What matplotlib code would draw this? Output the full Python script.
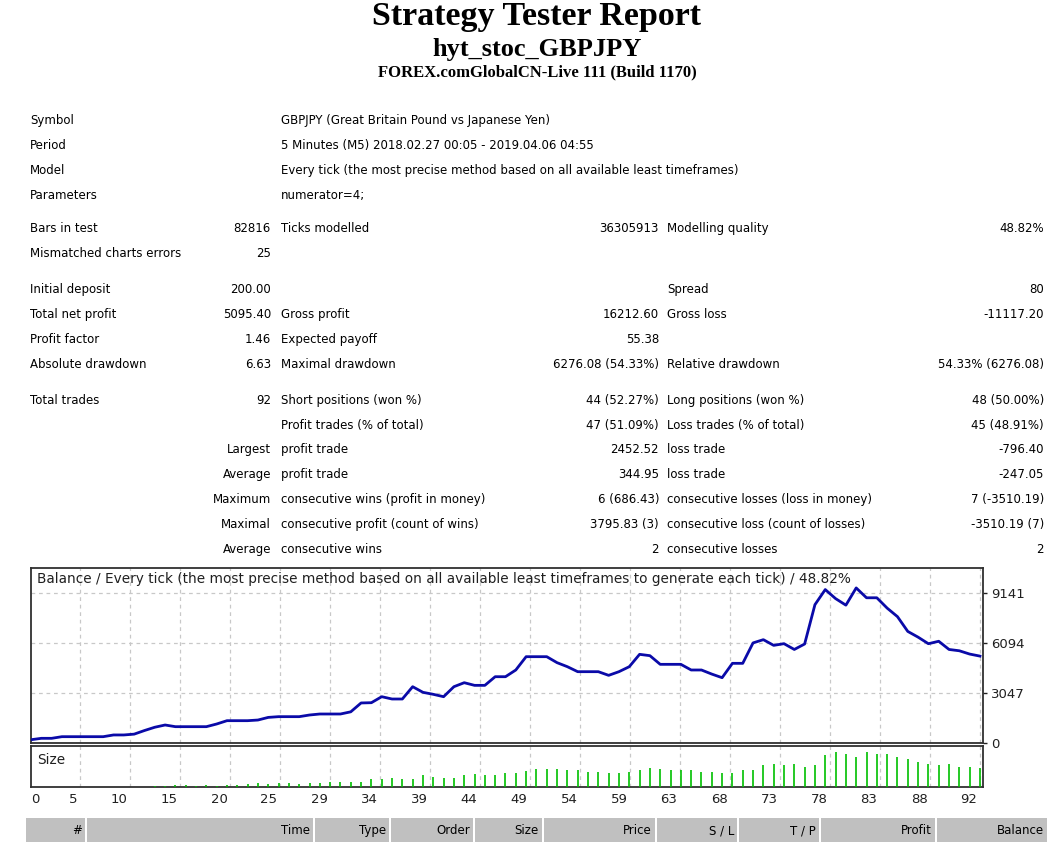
"""
plot.py
MT4 style "Strategy Tester Report" page: header, stats table, balance / size chart.
"""
import numpy as np
import matplotlib
matplotlib.use("Agg")
import matplotlib.pyplot as plt
from matplotlib.patches import Rectangle

# -----------------------------
# Data
# -----------------------------
title = "Strategy Tester Report"
expert = "hyt_stoc_GBPJPY"
server = "FOREX.comGlobalCN-Live 111 (Build 1170)"

info_labels = ["Symbol", "Period", "Model", "Parameters"]
info_values = ["GBPJPY (Great Britain Pound vs Japanese Yen)",
               "5 Minutes (M5) 2018.02.27 00:05 - 2019.04.06 04:55",
               "Every tick (the most precise method based on all available least timeframes)",
               "numerator=4;"]

stat_rows = [
    ["Bars in test", "82816", "Ticks modelled", "36305913", "Modelling quality", "48.82%"],
    ["Mismatched charts errors", "25", "", "", "", ""],
    ["Initial deposit", "200.00", "", "", "Spread", "80"],
    ["Total net profit", "5095.40", "Gross profit", "16212.60", "Gross loss", "-11117.20"],
    ["Profit factor", "1.46", "Expected payoff", "55.38", "", ""],
    ["Absolute drawdown", "6.63", "Maximal drawdown", "6276.08 (54.33%)", "Relative drawdown", "54.33% (6276.08)"],
    ["Total trades", "92", "Short positions (won %)", "44 (52.27%)", "Long positions (won %)", "48 (50.00%)"],
    ["", "", "Profit trades (% of total)", "47 (51.09%)", "Loss trades (% of total)", "45 (48.91%)"],
    ["", "Largest", "profit trade", "2452.52", "loss trade", "-796.40"],
    ["", "Average", "profit trade", "344.95", "loss trade", "-247.05"],
    ["", "Maximum", "consecutive wins (profit in money)", "6 (686.43)", "consecutive losses (loss in money)", "7 (-3510.19)"],
    ["", "Maximal", "consecutive profit (count of wins)", "3795.83 (3)", "consecutive loss (count of losses)", "-3510.19 (7)"],
    ["", "Average", "consecutive wins", "2", "consecutive losses", "2"],
]

# balance after each trade (trade 0 = initial deposit)
balance = [200, 285, 285, 385, 385, 385, 385, 385, 490, 490,
           540, 760, 960, 1097, 995, 995, 995, 995, 1158, 1360,
           1360, 1360, 1400, 1560, 1605, 1605, 1605, 1706, 1767, 1767,
           1767, 1900, 2440, 2456, 2822, 2681, 2681, 3431, 3088, 2966,
           2822, 3431, 3675, 3513, 3513, 4040, 4040, 4449, 5260, 5260,
           5260, 4895, 4650, 4346, 4346, 4346, 4123, 4346, 4650, 5403,
           5322, 4794, 4794, 4794, 4449, 4449, 4200, 3980, 4855, 4855,
           6100, 6297, 5950, 6053, 5700, 6033, 8430, 9350, 8800, 8400,
           9450, 8850, 8850, 8220, 7700, 6800, 6450, 6050, 6200, 5700,
           5620, 5420, 5295]

# lot size of each trade (trade 0 has none)
sizes = [0.0, 0.01, 0.01, 0.01, 0.01, 0.01, 0.01, 0.01, 0.01, 0.01,
         0.01, 0.01, 0.1, 0.1, 0.2, 0.2, 0.1, 0.2, 0.1, 0.2,
         0.2, 0.3, 0.4, 0.3, 0.4, 0.4, 0.3, 0.4, 0.4, 0.5,
         0.5, 0.5, 0.5, 0.8, 0.8, 0.9, 0.8, 0.8, 1.2, 1.0,
         0.9, 0.9, 1.2, 1.3, 1.2, 1.2, 1.4, 1.4, 1.6, 1.8,
         1.8, 1.8, 1.7, 1.7, 1.5, 1.5, 1.4, 1.4, 1.5, 1.7,
         1.9, 1.8, 1.7, 1.7, 1.7, 1.5, 1.5, 1.4, 1.4, 1.7,
         1.7, 2.2, 2.3, 2.2, 2.3, 2.0, 2.2, 3.2, 3.5, 3.3,
         3.0, 3.5, 3.3, 3.3, 3.0, 2.8, 2.5, 2.3, 2.2, 2.3,
         2.0, 2.0, 1.9]

x_labels = ["0", "5", "10", "15", "20", "25", "29", "34", "39", "44",
            "49", "54", "59", "63", "68", "73", "78", "83", "88", "92"]
y_ticks = [0, 3047, 6094, 9141]
chart_caption = ("Balance / Every tick (the most precise method based on all available "
                 "least timeframes to generate each tick) / 48.82%")

header_cols = ["#", "Time", "Type", "Order", "Size", "Price", "S / L", "T / P", "Profit", "Balance"]

# -----------------------------
# Layout helpers (pixel coords, origin top-left)
# -----------------------------
W, H = 1055, 846
fig = plt.figure(figsize=(W / 100, H / 100), dpi=100)
fig.patch.set_facecolor("white")

def fx(px):
    return px / W

def fy(py):
    return 1 - py / H

SANS = "DejaVu Sans"
SERIF = "Liberation Serif"
TXT = 8.5

# header (y = baseline)
fig.text(fx(537), fy(25), title, ha="center", va="baseline", family=SERIF,
         weight="bold", fontsize=24.5)
fig.text(fx(537), fy(56), expert, ha="center", va="baseline", family=SERIF,
         weight="bold", fontsize=19)
fig.text(fx(537), fy(76), server, ha="center", va="baseline", family=SERIF,
         weight="bold", fontsize=12)

# info block
for i, (lab, val) in enumerate(zip(info_labels, info_values)):
    y = 124 + i * 25
    fig.text(fx(30), fy(y), lab, ha="left", va="baseline", family=SANS, fontsize=TXT)
    fig.text(fx(281), fy(y), val, ha="left", va="baseline", family=SANS, fontsize=TXT)

# stats table
row_y = [228, 253, 289, 314, 339, 364, 400, 425, 449, 474, 499, 524, 549]
col_x = [30, 271, 281, 659, 667, 1044]
col_ha = ["left", "right", "left", "right", "left", "right"]
for y, row in zip(row_y, stat_rows):
    for x, ha, cell in zip(col_x, col_ha, row):
        if cell:
            fig.text(fx(x), fy(y + 4), cell, ha=ha, va="baseline", family=SANS,
                     fontsize=TXT)

# -----------------------------
# Chart
# -----------------------------
left, right = 31, 983
px_per_trade = 10.315
trades = np.arange(len(balance))
xmax = (right - left) / px_per_trade
grid_pos = (80 - left) / px_per_trade + np.arange(len(x_labels) - 1) * 50 / px_per_trade
tick_pos = np.concatenate([[0], grid_pos])

val_per_px = y_ticks[1] / 50.0
ax = fig.add_axes([fx(left), fy(743), (right - left) / W, (743 - 568) / H])
ax.plot(trades, balance, color="#0a0aa8", lw=2.0, solid_joinstyle="round", zorder=3)
ax.set_xlim(0, xmax)
ax.set_ylim(0, (743 - 568) * val_per_px)
ax.set_yticks(y_ticks)
ax.set_xticks(tick_pos[1:])
ax.yaxis.tick_right()
ax.tick_params(axis="y", direction="out", length=3, width=1, pad=3,
               labelsize=9.5, colors="#202020")
ax.tick_params(axis="x", length=0, labelbottom=False)
ax.grid(True, color="#c8c8c8", linestyle=(0, (3, 3)), lw=0.9)
for sp in ax.spines.values():
    sp.set_color("#303030")
    sp.set_linewidth(1.3)
ax.text(0.006, 0.94, chart_caption, transform=ax.transAxes, ha="left", va="center",
        family=SANS, fontsize=9.8, color="#202020")

axs = fig.add_axes([fx(left), fy(787), (right - left) / W, (787 - 746) / H])
axs.vlines(trades, 0, sizes, color="#00c000", lw=1.2, zorder=3)
axs.set_xlim(0, xmax)
axs.set_ylim(0, 4.1)
axs.set_yticks([])
axs.set_xticks(tick_pos[1:])
axs.tick_params(axis="x", length=0, labelbottom=False)
axs.grid(True, axis="x", color="#c8c8c8", linestyle=(0, (3, 3)), lw=0.9)
for sp in axs.spines.values():
    sp.set_color("#303030")
    sp.set_linewidth(1.3)
axs.text(0.006, 0.67, "Size", transform=axs.transAxes, ha="left", va="center",
         family=SANS, fontsize=9.8, color="#202020")

# x labels under the chart: first one left-aligned, the rest end at their grid line
for pos, lab in zip(tick_pos, x_labels):
    if pos == 0:
        axs.text(pos, -0.3, lab, transform=axs.get_xaxis_transform(), ha="left",
                 va="center", family=SANS, fontsize=9.5, color="#202020")
    else:
        axs.text(pos - 0.25, -0.3, lab, transform=axs.get_xaxis_transform(), ha="right",
                 va="center", family=SANS, fontsize=9.5, color="#202020")

# -----------------------------
# Trades table header
# -----------------------------
cells = [(26, 85), (87, 313), (315, 389), (391, 473), (475, 542), (544, 655),
         (657, 737), (739, 819), (821, 935), (937, 1047)]
for (x0, x1), name in zip(cells, header_cols):
    fig.patches.append(Rectangle((fx(x0), fy(842)), (x1 - x0) / W, (842 - 818) / H,
                                 transform=fig.transFigure, facecolor="#c0c0c0",
                                 edgecolor="none"))
    fig.text(fx(x1 - 3), fy(834), name, ha="right", va="baseline", family=SANS,
             fontsize=TXT)

fig.savefig("out.png", dpi=100)
